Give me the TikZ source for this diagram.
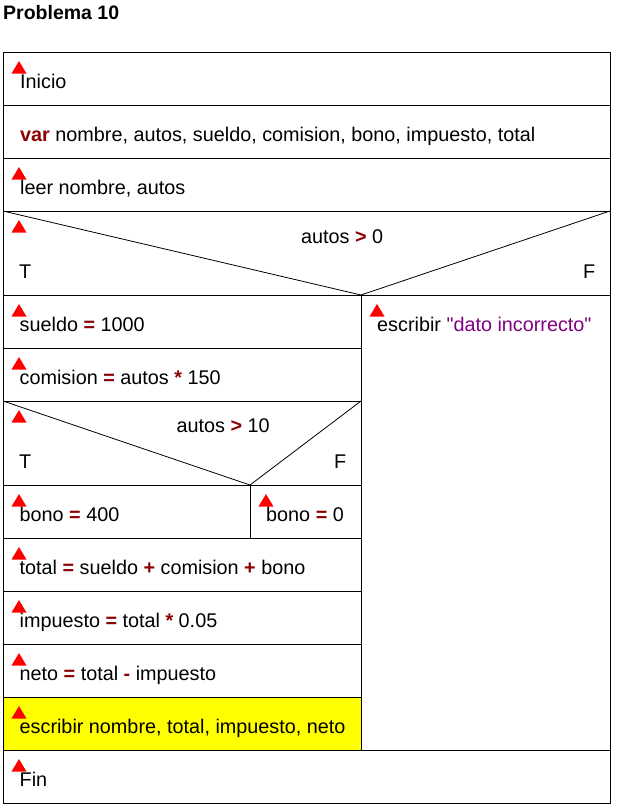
\documentclass[tikz,border=0pt]{standalone}
\usepackage{fontspec}
\setmainfont{Liberation Sans}
\newfontfamily\strfont{Liberation Sans}
\definecolor{opred}{RGB}{139,0,0}
\definecolor{strpurple}{RGB}{128,0,128}
\definecolor{trired}{RGB}{255,0,0}
\definecolor{hiyellow}{RGB}{255,255,0}
\newcommand{\op}[1]{\textcolor{opred}{\textbf{#1}}}
\tikzset{
  txt/.style={inner sep=0pt, anchor=base west, font=\fontsize{19.8}{23}\selectfont},
  frame/.style={draw=black, line width=1pt},
  diag/.style={draw=black, line width=0.8pt},
  tri/.pic={\fill[trired] (0,0) -- (-7.5,12.5) -- (7.5,12.5) -- cycle;}
}
\begin{document}
\begin{tikzpicture}[x=1pt,y=-1pt]
\useasboundingbox (0,0) rectangle (618,809);
% title
\node[txt, font=\fontsize{19.5}{23}\selectfont\bfseries] (title) at (3,19) {Problema 10};
% yellow fill
\fill[hiyellow] (3,697) rectangle (361,750);
% frame and rows
\draw[frame] (3,52) rectangle (610,803);
\foreach \yy in {105,158,211,295,750} \draw[frame] (3,\yy) -- (610,\yy);
\foreach \yy in {348,401,485,538,591,644,697} \draw[frame] (3,\yy) -- (361,\yy);
\draw[frame] (361,295) -- (361,750);
\draw[frame] (250,485) -- (250,538);
% decisions
\draw[diag] (3,211) -- (361,295) -- (610,211);
\draw[diag] (3,401) -- (250,485) -- (361,401);
% triangles
\foreach \yy in {52,158,211,295,348,401,485,538,591,644,697,750} \pic at (19,\yy+9) {tri};
\pic at (266,494) {tri};
\pic at (377,304) {tri};
% texts
\node[txt] (inicio) at (20,88.5) {Inicio};
\node[txt] (vars) at (20,141.5) {\op{var} nombre, autos, sueldo, comision, bono, impuesto, total};
\node[txt] (leer) at (20,194.5) {leer nombre, autos};
\node[txt] (c1) at (301,243) {autos \op{>} 0};
\node[txt] (t1) at (19,278) {T};
\node[txt] (f1) at (583,278) {F};
\node[txt] (sueldo) at (19.5,331.5) {sueldo \op{=} 1000};
\node[txt] (err) at (377,331.5) {escribir \textcolor{strpurple}{\strfont"dato incorrecto"}};
\node[txt] (comision) at (19.5,384.5) {comision \op{=} autos \op{*} 150};
\node[txt] (c2) at (176.5,432) {autos \op{>} 10};
\node[txt] (t2) at (19,468) {T};
\node[txt] (f2) at (334,468) {F};
\node[txt] (bono1) at (19.5,521.5) {bono \op{=} 400};
\node[txt] (bono2) at (266,521.5) {bono \op{=} 0};
\node[txt] (total) at (19.5,574.5) {total \op{=} sueldo \op{+} comision \op{+} bono};
\node[txt] (imp) at (19.5,627.5) {impuesto \op{=} total \op{*} 0.05};
\node[txt] (neto) at (19.5,680.5) {neto \op{=} total \op{-} impuesto};
\node[txt] (out) at (19.5,733.5) {escribir nombre, total, impuesto, neto};
\node[txt] (fin) at (19.5,786.5) {Fin};
\end{tikzpicture}
\end{document}
